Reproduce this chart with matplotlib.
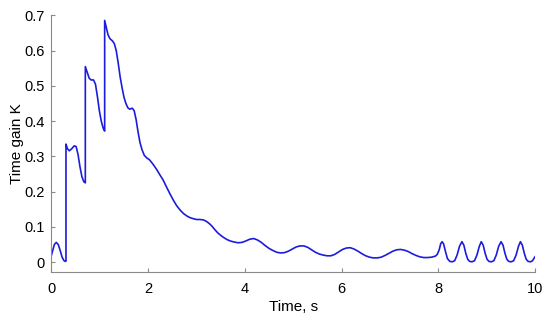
import matplotlib
matplotlib.use("Agg")
import matplotlib.pyplot as plt

plt.rcParams['font.family'] = ['Liberation Sans', 'DejaVu Sans']

# temps (s) et gain K
t = [0.00, 0.03, 0.06, 0.10, 0.14, 0.18, 0.22, 0.26, 0.29, 0.30,
     0.30, 0.33, 0.37, 0.42, 0.47, 0.51, 0.55, 0.59, 0.63, 0.67, 0.70,
     0.70, 0.74, 0.78, 0.82, 0.87, 0.91, 0.95, 0.99, 1.03, 1.07, 1.10,
     1.10, 1.13, 1.17, 1.21, 1.26, 1.30, 1.34, 1.38, 1.42, 1.46, 1.50,
     1.54, 1.58, 1.62, 1.67, 1.71, 1.75, 1.79, 1.83, 1.87, 1.92, 1.97,
     2.03, 2.10, 2.18, 2.25, 2.31, 2.38, 2.45, 2.52, 2.59, 2.66, 2.73,
     2.80, 2.87, 2.94, 3.00, 3.07, 3.14, 3.20, 3.26, 3.32, 3.38, 3.44,
     3.50, 3.56, 3.63, 3.70, 3.78, 3.86, 3.94, 4.02, 4.10, 4.18, 4.26,
     4.34, 4.42, 4.50, 4.58, 4.66, 4.74, 4.82, 4.90, 4.98, 5.06, 5.14,
     5.22, 5.30, 5.38, 5.46, 5.54, 5.62, 5.70, 5.78, 5.86, 5.94, 6.02,
     6.10, 6.18, 6.26, 6.34, 6.42, 6.50, 6.58, 6.66, 6.74, 6.82, 6.90,
     6.98, 7.06, 7.14, 7.22, 7.30, 7.38, 7.46, 7.54, 7.62, 7.70, 7.78,
     7.86, 7.94, 7.98, 8.02, 8.05, 8.08, 8.11, 8.15, 8.19, 8.24, 8.29,
     8.34, 8.39, 8.44, 8.49, 8.53, 8.57, 8.61, 8.65, 8.70, 8.75, 8.80,
     8.85, 8.89, 8.93, 8.97, 9.01, 9.05, 9.10, 9.15, 9.20, 9.25, 9.30,
     9.34, 9.38, 9.42, 9.46, 9.51, 9.56, 9.61, 9.66, 9.70, 9.74, 9.78,
     9.82, 9.86, 9.91, 9.95, 10.00]
K = [0.020, 0.035, 0.050, 0.056, 0.050, 0.033, 0.014, 0.004, 0.002, 0.003,
     0.335, 0.322, 0.316, 0.322, 0.330, 0.328, 0.305, 0.270, 0.242, 0.228, 0.225,
     0.555, 0.538, 0.522, 0.517, 0.517, 0.505, 0.470, 0.430, 0.400, 0.380, 0.372,
     0.686, 0.668, 0.645, 0.634, 0.628, 0.620, 0.600, 0.565, 0.526, 0.495, 0.468,
     0.450, 0.438, 0.434, 0.437, 0.430, 0.405, 0.370, 0.340, 0.320, 0.303, 0.296,
     0.290, 0.278, 0.262, 0.246, 0.233, 0.213, 0.194, 0.176, 0.160, 0.148, 0.138,
     0.131, 0.126, 0.123, 0.121, 0.121, 0.120, 0.116, 0.110, 0.102, 0.092, 0.083,
     0.076, 0.070, 0.064, 0.060, 0.057, 0.055, 0.056, 0.060, 0.065, 0.067, 0.063,
     0.056, 0.047, 0.039, 0.033, 0.028, 0.026, 0.027, 0.031, 0.037, 0.043, 0.046,
     0.046, 0.042, 0.035, 0.028, 0.023, 0.020, 0.018, 0.018, 0.022, 0.029, 0.036,
     0.040, 0.041, 0.037, 0.031, 0.024, 0.018, 0.014, 0.012, 0.012, 0.014, 0.019,
     0.025, 0.031, 0.035, 0.036, 0.034, 0.030, 0.024, 0.019, 0.015, 0.013, 0.013,
     0.014, 0.017, 0.022, 0.035, 0.052, 0.058, 0.052, 0.030, 0.010, 0.002, 0.001,
     0.004, 0.020, 0.045, 0.058, 0.048, 0.025, 0.008, 0.002, 0.001, 0.004, 0.020,
     0.045, 0.058, 0.048, 0.025, 0.008, 0.002, 0.001, 0.004, 0.020, 0.045, 0.058,
     0.048, 0.025, 0.008, 0.002, 0.001, 0.004, 0.020, 0.045, 0.058, 0.048, 0.025,
     0.008, 0.002, 0.001, 0.004, 0.015]

xticks = [0, 2, 4, 6, 8, 10]
yticks = [0, 0.1, 0.2, 0.3, 0.4, 0.5, 0.6, 0.7]
ytick_labels = ["0", "0.1", "0.2", "0.3", "0.4", "0.5", "0.6", "0.7"]

fig = plt.figure(figsize=(5.5, 3.24), dpi=100)
ax = fig.add_axes([0.0936, 0.1605, 0.879, 0.7917])
ax.plot(t, K, color="#1c1cdc", linewidth=1.2)

ax.set_xlim(0, 10)
ax.set_ylim(-0.028, 0.7)
ax.set_xticks(xticks)
ax.set_yticks(yticks)
ax.set_yticklabels(ytick_labels)

for s in ["top", "right"]:
    ax.spines[s].set_visible(False)
for s in ["left", "bottom"]:
    ax.spines[s].set_color("#8a8a8a")
    ax.spines[s].set_linewidth(0.8)
ax.tick_params(direction="in", length=3, color="#8a8a8a", labelsize=10.5)
ax.tick_params(axis="x", pad=7)
ax.tick_params(axis="y", pad=5)

ax.set_xlabel("Time, s", fontsize=11, labelpad=3)
ax.set_ylabel("Time gain K", fontsize=11, labelpad=0)

fig.savefig("out.png", dpi=100)
